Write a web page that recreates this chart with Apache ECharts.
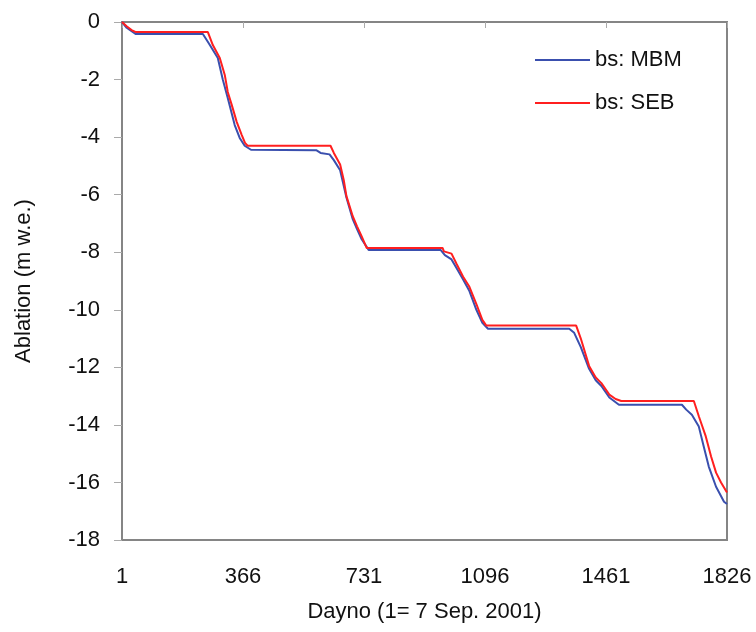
<!DOCTYPE html>
<html>
<head>
<meta charset="utf-8">
<script src="https://cdn.jsdelivr.net/npm/echarts@6/dist/echarts.min.js"></script>
<style>
  html, body { margin: 0; padding: 0; background: #fff; }
  #chart { width: 756px; height: 632px; }
</style>
</head>
<body>
<div id="chart"></div>
<script>
// day ticks (1 = 7 Sep. 2001)
const dayTicks = [1, 366, 731, 1096, 1461, 1826]

// bs: MBM (blue)
const mbmDays = [1, 15, 30, 43, 245, 266, 290, 305, 320, 341, 356, 371, 390,
  588, 600, 627, 640, 659, 670, 678, 697, 710, 724, 745,
  962, 975, 995, 1010, 1030, 1049, 1070, 1088, 1105,
  1350, 1365, 1385, 1410, 1430, 1447, 1471, 1500,
  1690, 1703, 1720, 1741, 1756, 1771, 1793, 1817, 1826]
const mbmValues = [0, -0.2, -0.32, -0.42, -0.42, -0.8, -1.25, -2.0, -2.64, -3.58, -4.03, -4.3, -4.44,
  -4.46, -4.55, -4.6, -4.8, -5.15, -5.7, -6.1, -6.85, -7.2, -7.55, -7.92,
  -7.92, -8.1, -8.25, -8.55, -8.95, -9.35, -10.0, -10.45, -10.66,
  -10.66, -10.8, -11.3, -12.05, -12.45, -12.65, -13.05, -13.3,
  -13.3, -13.47, -13.65, -14.06, -14.76, -15.45, -16.15, -16.67, -16.75]

// bs: SEB (red)
const sebDays = [1, 15, 30, 43, 260, 275, 296, 311, 320, 332, 347, 362, 372, 380,
  630, 640, 659, 670, 678, 697, 710, 724, 739,
  968, 972, 995, 1010, 1030, 1049, 1070, 1088, 1100,
  1371, 1385, 1410, 1430, 1447, 1471, 1490, 1507,
  1726, 1741, 1762, 1778, 1793, 1808, 1826]
const sebValues = [0, -0.15, -0.28, -0.35, -0.35, -0.8, -1.25, -1.84, -2.43, -2.88, -3.47, -3.92, -4.2, -4.3,
  -4.3, -4.55, -4.95, -5.5, -6.05, -6.75, -7.1, -7.45, -7.85,
  -7.85, -7.97, -8.05, -8.4, -8.85, -9.2, -9.8, -10.35, -10.55,
  -10.55, -11.0, -11.95, -12.35, -12.55, -12.95, -13.1, -13.17,
  -13.17, -13.7, -14.4, -15.1, -15.66, -16.0, -16.35]

const zip = (xs, ys) => xs.map((x, i) => [x, ys[i]])

const font = 'Liberation Sans, Arial, Helvetica, sans-serif'
const axisGray = '#858585'

const chart = echarts.init(document.getElementById('chart'))
chart.setOption({
  animation: false,
  textStyle: { fontFamily: font },
  grid: {
    left: 122,
    top: 22,
    right: 29,
    bottom: 92,
    outerBoundsMode: 'none',
    show: true,
    borderColor: axisGray,
    borderWidth: 2
  },
  legend: {
    orient: 'vertical',
    left: 530,
    top: 44,
    itemWidth: 55,
    itemHeight: 2,
    itemGap: 21,
    icon: 'rect',
    selectedMode: false,
    textStyle: { fontSize: 22, color: '#111', fontFamily: font },
    data: ['bs: MBM', 'bs: SEB']
  },
  xAxis: [
    {
      type: 'value',
      min: 1,
      max: 1826,
      position: 'bottom',
      name: 'Dayno (1= 7 Sep. 2001)',
      nameLocation: 'middle',
      nameGap: 61,
      nameTextStyle: { fontSize: 22, color: '#111', fontFamily: font },
      axisLine: { show: true, lineStyle: { color: axisGray, width: 2 } },
      axisTick: { show: false },
      splitLine: { show: false },
      axisLabel: {
        customValues: dayTicks,
        formatter: v => String(v),
        margin: 26,
        fontSize: 22,
        color: '#111',
        fontFamily: font
      }
    },
    {
      type: 'value',
      min: 1,
      max: 1826,
      position: 'top',
      axisLine: { show: true, lineStyle: { color: axisGray, width: 2 } },
      axisTick: {
        show: true,
        inside: true,
        length: 6,
        customValues: dayTicks,
        lineStyle: { color: '#aaa', width: 1 }
      },
      axisLabel: { show: false },
      splitLine: { show: false }
    }
  ],
  yAxis: {
    type: 'value',
    min: -18,
    max: 0,
    interval: 2,
    name: 'Ablation (m w.e.)',
    nameLocation: 'middle',
    nameGap: 87,
    nameTextStyle: { fontSize: 22, color: '#111', fontFamily: font },
    axisLine: { show: true, lineStyle: { color: axisGray, width: 2 } },
    axisTick: { show: true, length: 8, lineStyle: { color: '#aaa', width: 1 } },
    splitLine: { show: false },
    axisLabel: { margin: 22, fontSize: 22, color: '#111', fontFamily: font }
  },
  series: [
    {
      name: 'bs: MBM',
      type: 'line',
      xAxisIndex: 0,
      data: zip(mbmDays, mbmValues),
      showSymbol: false,
      color: '#3a4fae',
      lineStyle: { width: 2, color: '#3a4fae' }
    },
    {
      name: 'bs: SEB',
      type: 'line',
      xAxisIndex: 0,
      data: zip(sebDays, sebValues),
      showSymbol: false,
      color: '#ff1f1f',
      lineStyle: { width: 2, color: '#ff1f1f' }
    }
  ]
})
</script>
</body>
</html>
